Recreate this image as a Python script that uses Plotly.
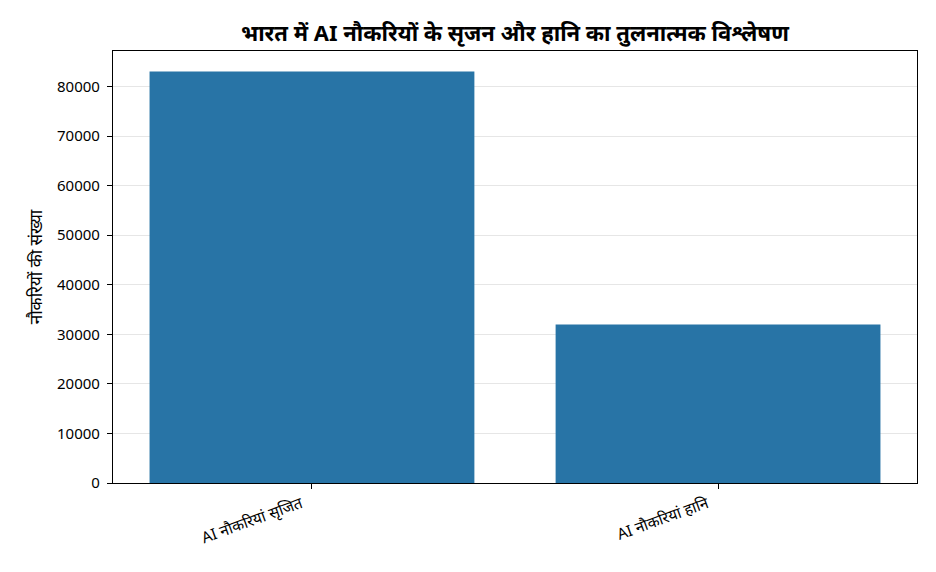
import plotly.graph_objects as go

# data
categories = ['AI नौकरियां सृजित', 'AI नौकरियां हानि']
job_counts = [83000, 32000]
y_ticks = [0, 10000, 20000, 30000, 40000, 50000, 60000, 70000, 80000]

fig = go.Figure()
fig.add_trace(go.Bar(
    x=categories,
    y=job_counts,
    marker=dict(color='#2874a6', line=dict(width=0)),
    width=0.8,
))

# page body has an 8px margin, so the figure is a bit smaller than the window
fig.update_layout(
    title=dict(
        text='<b>भारत में AI नौकरियों के सृजन और हानि का तुलनात्मक विश्लेषण</b>',
        x=0.551, xanchor='center', y=0.955, yanchor='middle',
        font=dict(size=22, color='black'),
    ),
    font=dict(family='Noto Sans, DejaVu Sans, sans-serif', size=16, color='black'),
    plot_bgcolor='white',
    paper_bgcolor='white',
    width=920,
    height=556,
    margin=dict(l=105, r=11, t=43, b=81),
    showlegend=False,
    xaxis=dict(
        range=[-0.49, 1.49],
        tickangle=-20,
        showline=True, linecolor='black', linewidth=1.2, mirror=True,
        ticks='outside', ticklen=5, tickcolor='black',
        tickfont=dict(size=15.5),
        ticklabelshift=-11,
        showgrid=False,
        automargin=False,
    ),
    yaxis=dict(
        title=dict(text='नौकरियों की संख्या', font=dict(size=17), standoff=10),
        range=[0, 87150],
        tickvals=y_ticks,
        tickformat='d',
        tickfont=dict(size=15),
        ticklabelstandoff=4,
        showline=True, linecolor='black', linewidth=1.2, mirror=True,
        ticks='outside', ticklen=5, tickcolor='black',
        showgrid=True, gridcolor='rgba(200,200,200,0.45)', gridwidth=1,
        zeroline=False,
        layer='above traces',
        automargin=False,
    ),
)

fig.write_html("out.html")
